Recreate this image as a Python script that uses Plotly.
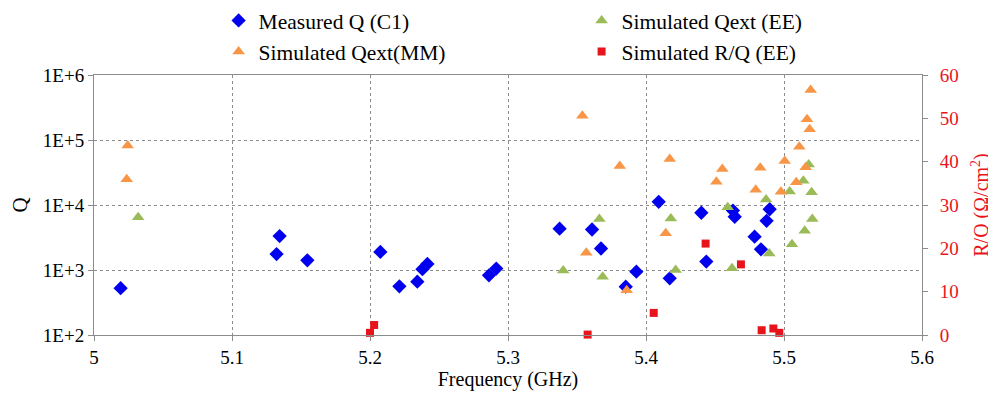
import plotly.graph_objects as go

# Measured Q (C1)
meas_f = [5.0193, 5.1323, 5.1345, 5.1546, 5.2075, 5.2213, 5.2343, 5.238, 5.2416, 5.2862, 5.2915,
          5.3374, 5.3609, 5.3674, 5.3853, 5.393, 5.4092, 5.4172, 5.4401, 5.4437, 5.463, 5.4643,
          5.4787, 5.4833, 5.4874, 5.4896]
meas_q = [525, 1760, 3330, 1410, 1900, 561, 661, 1030, 1240, 828, 1050,
          4330, 4200, 2140, 554, 944, 11200, 745, 7600, 1350, 8200, 6600,
          3260, 2080, 5700, 8600]

# Simulated Qext (EE)
ee_f = [5.032, 5.34, 5.3662, 5.3686, 5.418, 5.4215, 5.4592, 5.4623, 5.487, 5.4893,
        5.5041, 5.5058, 5.514, 5.515, 5.5179, 5.52, 5.5205]
ee_q = [6500, 980, 6100, 789, 6200, 1000, 9200, 1060, 12200, 1800,
        16200, 2480, 23700, 4000, 42000, 15700, 6100]

# Simulated Qext(MM)
mm_f = [5.0244, 5.0237, 5.3539, 5.3567, 5.381, 5.386, 5.4143, 5.4172, 5.451, 5.4553,
        5.4795, 5.4828, 5.4978, 5.5005, 5.5089, 5.5111, 5.5157, 5.5167, 5.5186, 5.5193]
mm_q = [82000, 25000, 237000, 1850, 39800, 490, 3670, 51000, 22800, 35800,
        17200, 37500, 16000, 47500, 22400, 79000, 38000, 208000, 146000, 590000]

# Simulated R/Q (EE), right axis
rq_f = [5.2, 5.203, 5.3577, 5.4056, 5.4432, 5.4688, 5.4838, 5.4923, 5.4966]
rq_v = [0.5, 2.3, 0.1, 5.1, 21.1, 16.3, 1.1, 1.5, 0.5]

q_ticks = [1e2, 1e3, 1e4, 1e5, 1e6]
q_ticktext = ['1E+2', '1E+3', '1E+4', '1E+5', '1E+6']

font = 'Liberation Serif, DejaVu Serif'
gray = '#8c8c8c'
red = '#e8141b'

fig = go.Figure()
fig.add_trace(go.Scatter(x=meas_f, y=meas_q, mode='markers', name='Measured Q (C1)',
                         marker=dict(symbol='diamond', size=11, color='#0000ee'), cliponaxis=False))
fig.add_trace(go.Scatter(x=ee_f, y=ee_q, mode='markers', name='Simulated Qext (EE)',
                         marker=dict(symbol='triangle-up', size=11, color='#9bbb59'), cliponaxis=False))
fig.add_trace(go.Scatter(x=mm_f, y=mm_q, mode='markers', name='Simulated Qext(MM)',
                         marker=dict(symbol='triangle-up', size=11, color='#f79646'), cliponaxis=False))
fig.add_trace(go.Scatter(x=rq_f, y=rq_v, mode='markers', name='Simulated R/Q (EE)', yaxis='y2',
                         marker=dict(symbol='square', size=8, color=red), cliponaxis=False))

# page body has an 8px margin, so the figure is 8px smaller and margins shifted by 8
fig.update_layout(
  width=988, height=386, autosize=False,
  margin=dict(l=86, r=74, t=67, b=59, autoexpand=False),
  plot_bgcolor='white', paper_bgcolor='white',
  font=dict(family=font, size=19, color='black'),
  legend=dict(orientation='h', x=0.1505, y=1.2885, xanchor='left', yanchor='top',
              entrywidth=318, font=dict(family=font, size=21.5), bgcolor='rgba(0,0,0,0)',
              itemwidth=30, tracegroupgap=0),
  xaxis=dict(range=[5, 5.6], dtick=0.1, tick0=5, showline=True, linecolor=gray, linewidth=1,
             mirror=True, ticks='outside', ticklen=5, tickcolor=gray,
             showgrid=True, gridcolor=gray, griddash='3px,3px', gridwidth=1, zeroline=False,
             title=dict(text='Frequency (GHz)', font=dict(family=font, size=20), standoff=0)),
  yaxis=dict(type='log', range=[2, 6], tickvals=q_ticks, ticktext=q_ticktext,
             showline=True, linecolor=gray, linewidth=1, ticks='outside', ticklen=5, tickcolor=gray,
             showgrid=True, gridcolor=gray, griddash='3px,3px', gridwidth=1, zeroline=False,
             title=dict(text='Q', font=dict(family=font, size=21), standoff=12)),
  yaxis2=dict(overlaying='y', side='right', range=[0, 60], dtick=10,
              showline=True, linecolor=gray, linewidth=1, ticks='outside', ticklen=5, tickcolor=gray,
              showgrid=False, zeroline=False, tickfont=dict(family=font, color=red),
              ticklabelstandoff=8,
              title=dict(text='R/Q (Ω/cm<sup>2</sup>)', font=dict(family=font, size=20, color=red),
                         standoff=16)),
)

fig.write_html('out.html')
